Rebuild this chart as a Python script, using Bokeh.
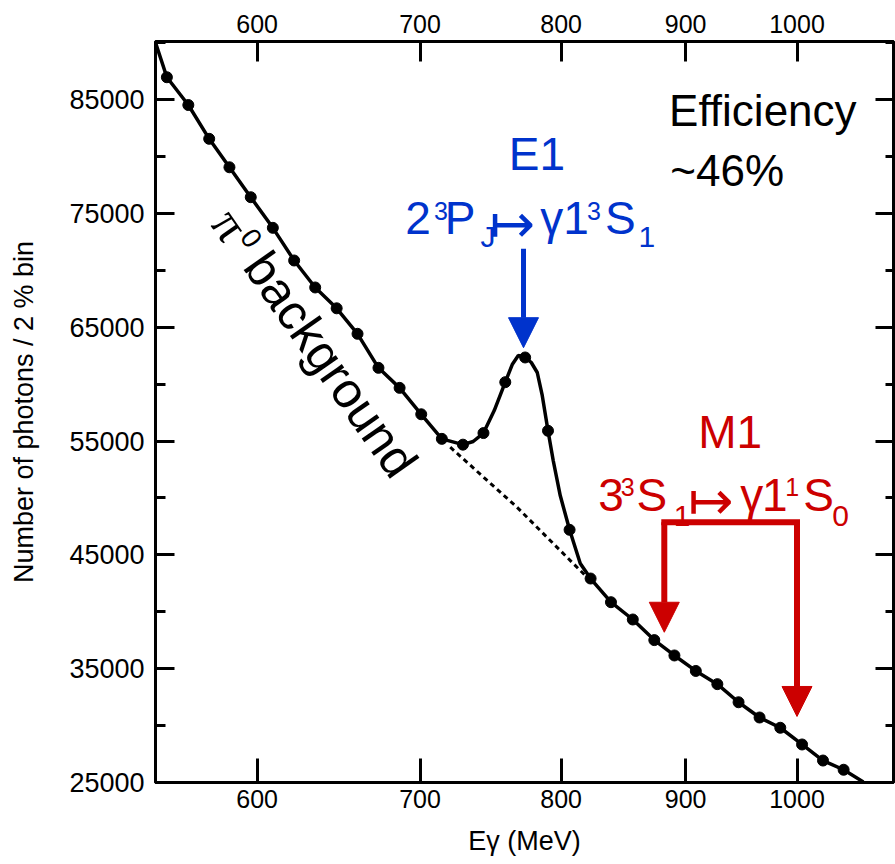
import math
from bokeh.plotting import figure
from bokeh.models import (Range1d, LogAxis, LinearAxis, FixedTicker, NumeralTickFormatter,
                          CustomJSTickFormatter, Arrow, NormalHead, Label)
from bokeh.embed import file_html
from bokeh.resources import INLINE

# ---------------- data ----------------
point_energy = [550.9, 562.2, 573.4, 584.5, 596.4, 609.0, 621.4, 633.9, 646.9, 659.8,
                673.0, 686.6, 700.8, 714.6, 729.0, 743.3, 758.8, 773.2, 790.1, 806.4,
                822.6, 838.6, 856.1, 873.7, 890.5, 908.7, 927.4, 946.2, 965.2, 984.3,
                1004.8, 1024.9, 1045.1]
point_counts = [86960, 84520, 81550, 79050, 76420, 73730, 70860, 68490, 66660, 64420,
                61430, 59670, 57350, 55190, 54680, 55700, 60170, 62340, 55900, 47200,
                42920, 40840, 39320, 37510, 36160, 34800, 33640, 32050, 30710, 29810,
                28340, 26930, 26120]

fit_energy = [545.0, 550.9, 562.2, 573.4, 584.5, 596.4, 609.0, 621.4, 633.9, 646.9,
              659.8, 673.0, 686.6, 700.8, 714.6, 729.0, 736.1, 743.3, 750.9, 758.8,
              763.8, 768.2, 773.2, 777.7, 782.1, 785.8, 790.1, 794.0, 799.3, 806.4,
              814.6, 822.6, 838.6, 856.1, 873.7, 890.5, 908.7, 927.4, 946.2, 965.2,
              984.3, 1004.8, 1024.9, 1045.1, 1064.8]
fit_counts = [90000, 86960, 84520, 81550, 79050, 76420, 73730, 70860, 68490, 66660,
              64420, 61430, 59670, 57350, 55190, 54680, 54960, 55700, 57680, 60170,
              61720, 62510, 62340, 61900, 61020, 59000, 55900, 53290, 50210, 47200,
              44240, 42920, 40840, 39320, 37510, 36160, 34800, 33640, 32050, 30710,
              29810, 28340, 26930, 26120, 25050]

bg_energy = [720.3, 767.2, 820.0]
bg_counts = [54460, 49190, 43010]

x_ticks = [600, 700, 800, 900, 1000]
y_ticks = [25000, 35000, 45000, 55000, 65000, 75000, 85000]
y_minor_ticks = [30000, 40000, 50000, 60000, 70000, 80000, 90000]

# annotation anchors
e1_energy = 772
e1_arrow_counts = [71900, 63200]
m1_energies = [882, 1000]
m1_bracket_counts = 47870
m1_tip_counts = [38200, 30800]

BLUE = "#0033CC"
RED = "#CC0000"
SANS = "Liberation Sans"
BASELINE_FIX = 0.39  # empirical: label baseline correction, fraction of font size

p = figure(width=895, height=864, x_axis_type="log",
           x_range=Range1d(545, 1095.6), y_range=Range1d(25000, 90100),
           output_backend="svg", toolbar_location=None,
           min_border_left=155, min_border_right=2, min_border_top=41, min_border_bottom=82)
p.background_fill_color = "white"
p.border_fill_color = "white"
p.outline_line_color = "black"
p.outline_line_width = 3
p.xgrid.visible = False
p.ygrid.visible = False


def style_axis(ax, tick_in, minor_in, size, standoff):
    ax.axis_line_width = 3
    ax.axis_line_color = "black"
    ax.major_tick_in = tick_in
    ax.major_tick_out = 0
    ax.minor_tick_in = minor_in
    ax.minor_tick_out = 0
    ax.major_tick_line_width = 3
    ax.minor_tick_line_width = 3
    ax.major_tick_line_color = "black"
    ax.minor_tick_line_color = "black"
    ax.major_label_text_font = SANS
    ax.major_label_text_font_size = size
    ax.major_label_text_color = "black"
    ax.major_label_standoff = standoff
    ax.axis_label_text_color = "black"


bottom = p.below[0]
bottom.ticker = FixedTicker(ticks=x_ticks, minor_ticks=[])
bottom.formatter = NumeralTickFormatter(format="0")
style_axis(bottom, 24, 0, "25px", 7)
bottom.axis_label = "Eγ (MeV)"
bottom.axis_label_text_font = SANS
bottom.axis_label_text_font_size = "27px"
bottom.axis_label_text_font_style = "normal"
bottom.axis_label_standoff = 15

left = p.left[0]
left.ticker = FixedTicker(ticks=y_ticks, minor_ticks=y_minor_ticks)
left.formatter = NumeralTickFormatter(format="0")
style_axis(left, 19, 10, "27px", 11)
left.axis_label = "Number of photons / 2 % bin"
left.axis_label_text_font = SANS
left.axis_label_text_font_size = "27px"
left.axis_label_text_font_style = "normal"
left.axis_label_standoff = 27

top = LogAxis(ticker=FixedTicker(ticks=x_ticks, minor_ticks=[]),
              formatter=NumeralTickFormatter(format="0"))
style_axis(top, 20, 0, "25px", 9)
p.add_layout(top, "above")

right = LinearAxis(ticker=FixedTicker(ticks=y_ticks, minor_ticks=y_minor_ticks),
                   formatter=CustomJSTickFormatter(code="return ''"))
style_axis(right, 18, 8, "24px", 0)
p.add_layout(right, "right")

# ---------------- data marks ----------------
p.line(fit_energy, fit_counts, line_width=3.5, line_color="black")
p.line(bg_energy, bg_counts, line_width=3, line_color="black", line_dash="5 4")
p.scatter(point_energy, point_counts, marker="circle", size=11,
          fill_color="black", line_color="black")

# ---------------- arrows ----------------
p.add_layout(Arrow(end=NormalHead(size=30, fill_color=BLUE, line_color=BLUE, line_width=1),
                   x_start=e1_energy, y_start=e1_arrow_counts[0],
                   x_end=e1_energy, y_end=e1_arrow_counts[1],
                   line_color=BLUE, line_width=5))
p.add_layout(Arrow(end=None, x_start=m1_energies[0], y_start=m1_bracket_counts,
                   x_end=m1_energies[1], y_end=m1_bracket_counts,
                   line_color=RED, line_width=6, line_cap="square"))
for e, tip in zip(m1_energies, m1_tip_counts):
    p.add_layout(Arrow(end=NormalHead(size=30, fill_color=RED, line_color=RED, line_width=1),
                       x_start=e, y_start=m1_bracket_counts, x_end=e, y_end=tip,
                       line_color=RED, line_width=6))


# ---------------- texts ----------------
def add_text(x, y, text, size, color="black", font=SANS, dx=0.0, dy=0.0, angle=0.0):
    # dx, dy: screen pixels, dy positive = downwards
    p.add_layout(Label(x=x, y=y, text=text, x_offset=dx, y_offset=-dy,
                       text_font=font, text_font_size=f"{size}px", text_color=color,
                       text_align="left", text_baseline="alphabetic",
                       angle=angle, angle_units="deg"))


def add_rich(x, y, segments, color):
    for text, dx, dy, size, font in segments:
        add_text(x, y, text, size, color, font, dx, dy - BASELINE_FIX * size)


add_text(886, 82540, "Efficiency", 44, dy=-BASELINE_FIX * 44)
add_text(887, 77270, "~46%", 44, dy=-BASELINE_FIX * 44)

add_text(761.3, 78680, "E1", 46, BLUE, dy=-BASELINE_FIX * 46)
add_rich(690.2, 73050, [
    ("2", 0, 0, 46, SANS),
    ("3", 28.8, -15, 25, SANS),
    ("P", 39.7, 0, 46, SANS),
    ("J", 75.4, 13, 30, SANS),
    ("↦", 84.5, 8.5, 54, "DejaVu Sans"),
    ("γ", 135, 0, 46, SANS),
    ("1", 158, 0, 46, SANS),
    ("3", 181.8, -15, 25, SANS),
    ("S", 199.9, 0, 46, SANS),
    ("1", 233.4, 13.3, 30, SANS),
], BLUE)

add_text(910.8, 54230, "M1", 46, RED, dy=-BASELINE_FIX * 46)
add_rich(828.6, 48690, [
    ("3", 0, 0, 46, SANS),
    ("3", 22.5, -15.6, 25, SANS),
    ("S", 38.2, 0, 46, SANS),
    ("1", 75.4, 14.4, 30, SANS),
    ("↦", 90, 8.5, 54, "DejaVu Sans"),
    ("γ", 142, 0, 46, SANS),
    ("1", 163.7, 0, 46, SANS),
    ("1", 187, -15.6, 25, SANS),
    ("S", 204.9, 0, 46, SANS),
    ("0", 234, 14.4, 30, SANS),
], RED)

# rotated "π0 background"
ang = 55.0
ux, uy = math.cos(math.radians(ang)), math.sin(math.radians(ang))
nx, ny = math.sin(math.radians(ang)), -math.cos(math.radians(ang))
for text, a, b, size, font in [("π", 0, 0, 50, "Liberation Serif"),
                               ("0", 28, 18, 28, SANS),
                               ("background", 54, 2, 50, SANS)]:
    b = b + BASELINE_FIX * size
    add_text(572.3, 73930, text, size, "black", font,
             dx=a * ux + b * nx, dy=a * uy + b * ny, angle=-ang)

open("out.html", "w").write(file_html(p, INLINE))
